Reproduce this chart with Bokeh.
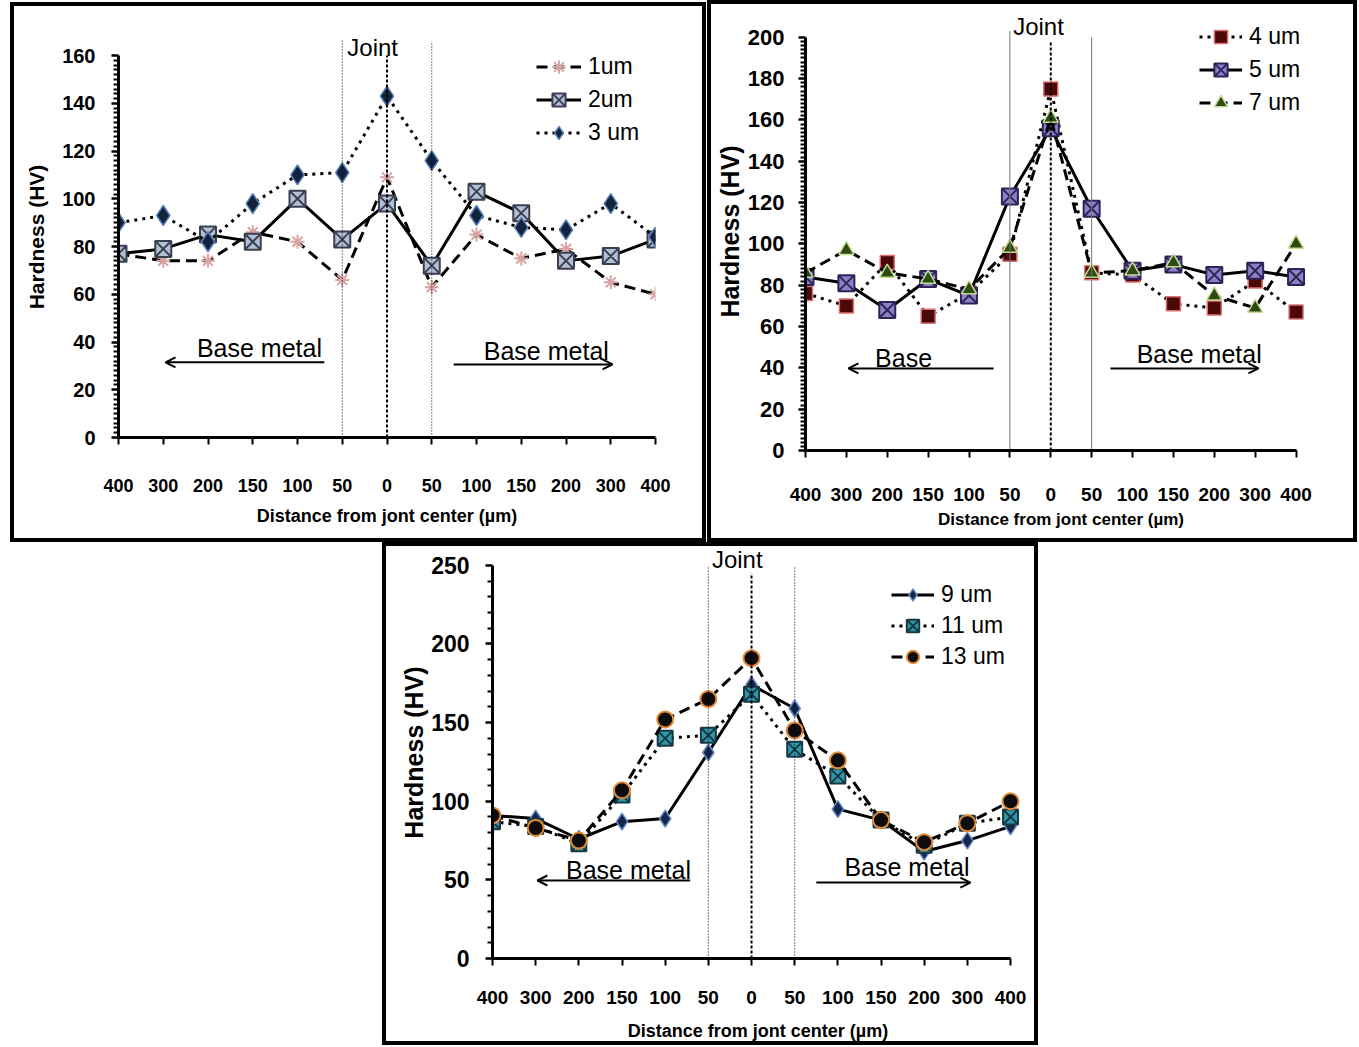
from bokeh.plotting import figure
from bokeh.models import FixedTicker, Range1d, Label, Arrow, OpenHead, Legend, LegendItem, Spacer
from bokeh.layouts import column, row
from bokeh.embed import file_html
from bokeh.resources import INLINE

# ---------------- data ----------------
positions = ["400", "300", "200", "150", "100", "50", "0", "50", "100", "150", "200", "300", "400"]
xpos = list(range(len(positions)))
joint_edges = [5, 7]      # the two "50" positions
joint_center = 6          # the "0" position

# panel 1
hv_1um = [77, 74, 74, 86, 82, 66, 109, 63, 85, 75, 79, 65, 60]
hv_2um = [77, 79, 85, 82, 100, 83, 98, 72, 103, 94, 74, 76, 83]
hv_3um = [90, 93, 82, 98, 110, 111, 143, 116, 93, 88, 87, 98, 84]
# panel 2
hv_4um = [76, 70, 91, 65, 76, 95, 175, 86, 85, 71, 69, 82, 67]
hv_5um = [84, 81, 68, 83, 75, 123, 156, 117, 87, 90, 85, 87, 84]
hv_7um = [86, 97, 86, 83, 78, 98, 161, 86, 87, 91, 75, 69, 100]
# panel 3
hv_9um = [91, 89, 76, 87, 89, 131, 174, 159, 95, 88, 68, 75, 84]
hv_11um = [87, 84, 73, 104, 140, 142, 168, 133, 116, 88, 72, 86, 90]
hv_13um = [91, 83, 75, 107, 152, 165, 191, 145, 126, 88, 74, 86, 100]

SANS = "Liberation Sans, Arial, sans-serif"


def make_panel(width, height, left, right, top, bottom, xtop, ytop, ymax, ystep, yminor,
               ytick_size, ystandoff, ylab_size, ylab_standoff,
               xtick_size, xstandoff, xlab_size, xlab_standoff):
    p = figure(width=width, height=height, output_backend="svg", toolbar_location=None,
               x_range=Range1d(0, xtop), y_range=Range1d(0, ytop),
               min_border_left=left, min_border_right=right,
               min_border_top=top, min_border_bottom=bottom)
    p.grid.visible = False
    p.outline_line_color = None
    p.background_fill_color = "white"
    p.border_fill_color = "white"
    p.styles = {"border": "4px solid black"}

    xa = p.xaxis[0]
    xa.bounds = (0, len(positions) - 1)
    xa.ticker = FixedTicker(ticks=xpos, minor_ticks=[])
    xa.major_label_overrides = {i: lab for i, lab in enumerate(positions)}
    xa.axis_line_width = 3
    xa.major_tick_line_width = 2
    xa.major_tick_out = 7
    xa.major_tick_in = 0
    xa.major_label_standoff = xstandoff
    xa.major_label_text_font = SANS
    xa.major_label_text_font_style = "bold"
    xa.major_label_text_font_size = f"{xtick_size}px"
    xa.major_label_text_color = "black"
    xa.axis_label = "Distance from jont center (µm)"
    xa.axis_label_text_font = SANS
    xa.axis_label_text_font_style = "bold"
    xa.axis_label_text_font_size = f"{xlab_size}px"
    xa.axis_label_standoff = xlab_standoff
    xa.axis_label_text_color = "black"

    ya = p.yaxis[0]
    ya.bounds = (0, ymax)
    ya.ticker = FixedTicker(ticks=list(range(0, ymax + 1, ystep)),
                            minor_ticks=[v for v in range(0, ymax + 1, yminor) if v % ystep])
    ya.axis_line_width = 3
    ya.major_tick_line_width = 2.5
    ya.major_tick_out = 7
    ya.major_tick_in = 0
    ya.minor_tick_line_width = 2
    ya.minor_tick_out = 5
    ya.minor_tick_in = 0
    ya.major_label_standoff = ystandoff
    ya.major_label_text_font = SANS
    ya.major_label_text_font_style = "bold"
    ya.major_label_text_font_size = f"{ytick_size}px"
    ya.major_label_text_color = "black"
    ya.axis_label = "Hardness (HV)"
    ya.axis_label_text_font = SANS
    ya.axis_label_text_font_style = "bold"
    ya.axis_label_text_font_size = f"{ylab_size}px"
    ya.axis_label_standoff = ylab_standoff
    ya.axis_label_text_color = "black"
    return p


def joint_lines(p, edge_tops, center_top, edge_dash, edge_color, joint_xy):
    for xe, yt in zip(joint_edges, edge_tops):
        p.segment(x0=xe, y0=0, x1=xe, y1=yt, line_color=edge_color, line_width=1,
                  line_dash=edge_dash)
    p.segment(x0=joint_center, y0=0, x1=joint_center, y1=center_top, line_color="black",
              line_width=2, line_dash="3 2")
    p.add_layout(Label(x=joint_xy[0], y=joint_xy[1], text="Joint", text_align="center",
                       text_baseline="middle", text_font=SANS, text_font_size="24px",
                       text_color="black"))


def base_metal(p, left_text, lt_xy, la, rt_xy, ra, size="25px"):
    p.add_layout(Label(x=lt_xy[0], y=lt_xy[1], text=left_text, text_align="center",
                       text_baseline="middle", text_font=SANS, text_font_size=size,
                       text_color="black"))
    p.add_layout(Label(x=rt_xy[0], y=rt_xy[1], text="Base metal", text_align="center",
                       text_baseline="middle", text_font=SANS, text_font_size=size,
                       text_color="black"))
    p.add_layout(Arrow(end=OpenHead(size=10, line_width=2), x_start=la[0], x_end=la[1],
                       y_start=la[2], y_end=la[2], line_width=2, line_color="black"))
    p.add_layout(Arrow(end=OpenHead(size=10, line_width=2), x_start=ra[0], x_end=ra[1],
                       y_start=ra[2], y_end=ra[2], line_width=2, line_color="black"))


def series(p, y, dash, marker, size, fill, edge, mlw=1.5):
    ln = p.line(xpos, y, line_color="black", line_width=3, line_dash=dash)
    sc = p.scatter(xpos, y, marker=marker, size=size, fill_color=fill, line_color=edge,
                   line_width=mlw)
    return [ln, sc]


def add_legend(p, items, loc, font_size="23px", glyph_w=45, pitch=33):
    lg = Legend(items=[LegendItem(label=lab, renderers=r) for lab, r in items],
                location=loc, background_fill_alpha=0, border_line_alpha=0,
                padding=0, margin=0, spacing=0, glyph_width=glyph_w,
                glyph_height=pitch, label_height=pitch, label_standoff=7, label_text_font=SANS,
                label_text_font_size=font_size, label_text_color="black")
    p.add_layout(lg)


DASH = "11 6"
DOT = "3 5"

# ---------------- panel 1 ----------------
p1 = make_panel(696, 540, 104, 55, 30, 109, 12, 168, 160, 20, 2,
                20, 16, 21, 11,
                18, 34, 18, 11)
r1 = series(p1, hv_1um, DASH, "asterisk", 14, "#d9a3a3", "#d9a3a3", 2)
r2 = series(p1, hv_2um, "solid", "square_x", 16, "#b3bfd3", "#3a4050", 2)
r3 = series(p1, hv_3um, DOT, "diamond", 20, "#13233d", "#5a82b8", 1.5)
joint_lines(p1, [167, 166], 160, "1 2", "black", (5.68, 163.5))
base_metal(p1, "Base metal", (3.15, 37.5), (4.6, 1.05, 31.5), (9.56, 36.2), (7.49, 11.04, 30.6))
add_legend(p1, [("1um", r1), ("2um", r2), ("3 um", r3)], (418, 288))

# ---------------- panel 2 ----------------
p2 = make_panel(650, 542, 94, 45, 8, 96, 12.5, 212, 200, 20, 2,
                22, 14, 25, 1,
                19, 30, 17, 6)
r4 = series(p2, hv_4um, DOT, "square", 14, "#4a0808", "#e07070", 1.5)
r5 = series(p2, hv_5um, "solid", "square_x", 16, "#8c80c8", "#2f2358", 2)
r7 = series(p2, hv_7um, DASH, "triangle", 15, "#2c4a12", "#c5dc95", 1.5)
joint_lines(p2, [203, 200], 198, "solid", "#777777", (5.7, 205))
base_metal(p2, "Base", (2.4, 45), (4.6, 1.05, 39.7), (9.63, 46.5), (7.46, 11.08, 39.7))
add_legend(p2, [("4 um", r4), ("5 um", r5), ("7 um", r7)], (394, 331), "23px", 43)

# ---------------- panel 3 ----------------
p3 = make_panel(656, 503, 106, 19, 0, 91, 12.3, 262, 250, 50, 10,
                23, 16, 25, 0,
                19, 25, 18, 14)
r9 = series(p3, hv_9um, "solid", "diamond", 17, "#14264a", "#6a8fce", 1.5)
r11 = series(p3, hv_11um, DOT, "square_x", 15, "#2f97a8", "#173a44", 2)
r13 = series(p3, hv_13um, DASH, "circle", 16, "#0c0c0c", "#e48a35", 2)
joint_lines(p3, [250, 250], 245, "1 2", "black", (5.67, 254))
base_metal(p3, "Base metal", (3.15, 56), (4.58, 1.04, 49.6), (9.6, 58.5), (7.5, 11.07, 48.3))
add_legend(p3, [("9 um", r9), ("11 um", r11), ("13 um", r13)], (399, 286), "23px", 43, 31)

top_row = row(Spacer(width=10, height=10), column(Spacer(width=10, height=2), p1),
              Spacer(width=1, height=10), column(p2))
bottom_row = row(Spacer(width=382, height=10), column(p3))
layout = column(top_row, bottom_row)
open("out.html", "w").write(file_html(layout, INLINE))
